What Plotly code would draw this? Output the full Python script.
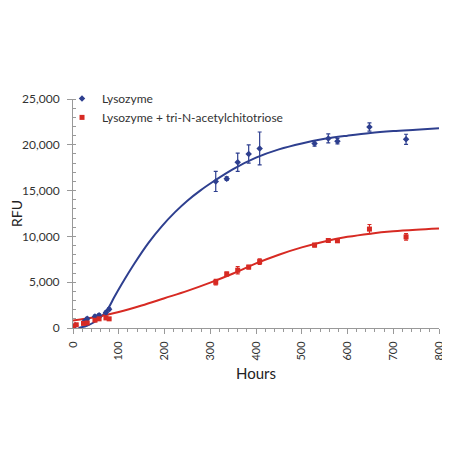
import plotly.graph_objects as go

# measured points (hours, RFU, error)
lyso_hours = [0, 5, 25, 31, 48, 57, 72, 79, 312, 336, 360, 384, 408, 528, 558, 578, 648, 728]
lyso_rfu = [150, 300, 700, 1000, 1250, 1400, 1700, 2050, 16000, 16300, 18100, 19000, 19600,
            20150, 20700, 20400, 21950, 20600]
lyso_err = [100, 100, 150, 150, 150, 150, 150, 150, 1100, 200, 1000, 1000, 1800,
            300, 500, 300, 450, 550]

inhib_hours = [0, 7, 23, 31, 48, 57, 72, 79, 312, 336, 360, 384, 408, 528, 558, 578, 648, 728]
inhib_rfu = [200, 350, 500, 550, 850, 1000, 1100, 1000, 5000, 5900, 6300, 6650, 7250,
             9050, 9550, 9520, 10800, 9950]
inhib_err = [100, 100, 100, 100, 100, 100, 100, 100, 300, 200, 400, 200, 300,
             200, 150, 150, 500, 350]

# fitted curves
lyso_fit_hours = [12, 30, 45, 60, 77, 90, 106, 135, 165, 194, 223, 250, 278, 310, 350, 400,
                  450, 500, 550, 600, 650, 700, 750, 800]
lyso_fit_rfu = [0, 250, 600, 1150, 2150, 3350, 4750, 7100, 9300, 11100, 12650, 13900, 15000,
                16100, 17350, 18600, 19500, 20150, 20650, 21000, 21300, 21500, 21650, 21800]

inhib_fit_hours = [0, 50, 100, 150, 200, 250, 300, 350, 400, 450, 500, 550, 600, 650,
                   700, 750, 800]
inhib_fit_rfu = [820, 1200, 1750, 2450, 3250, 4050, 4950, 5950, 7050, 8000, 8800, 9450,
                 9950, 10300, 10550, 10720, 10850]

x_ticks = [0, 100, 200, 300, 400, 500, 600, 700, 800]
y_ticks = [0, 5000, 10000, 15000, 20000, 25000]
y_labels = ["0", "5,000", "10,000", "15,000", "20,000", "25,000"]

BLUE = "#2E3F8F"
RED = "#D72A23"
FONT = "Lato, Open Sans, sans-serif"

fig = go.Figure()

fig.add_trace(go.Scatter(
    x=lyso_fit_hours, y=lyso_fit_rfu, mode="lines", line=dict(color=BLUE, width=2, shape="spline"),
    showlegend=False, hoverinfo="skip",
))
fig.add_trace(go.Scatter(
    x=inhib_fit_hours, y=inhib_fit_rfu, mode="lines", line=dict(color=RED, width=2, shape="spline"),
    showlegend=False, hoverinfo="skip",
))
fig.add_trace(go.Scatter(
    x=lyso_hours, y=lyso_rfu, mode="markers", name="Lysozyme",
    marker=dict(symbol="diamond", size=5, color=BLUE),
    error_y=dict(type="data", array=lyso_err, color=BLUE, thickness=1.2, width=2),
))
fig.add_trace(go.Scatter(
    x=inhib_hours, y=inhib_rfu, mode="markers", name="Lysozyme + tri-N-acetylchitotriose",
    marker=dict(symbol="square", size=5, color=RED),
    error_y=dict(type="data", array=inhib_err, color=RED, thickness=1.2, width=2),
))

# page body adds an 8px offset, margins compensate for it
fig.update_layout(
    width=450, height=450,
    margin=dict(l=65, r=19, t=91, b=130, autoexpand=False),
    paper_bgcolor="white", plot_bgcolor="white",
    font=dict(family=FONT, size=11, color="#333333"),
    showlegend=True,
    legend=dict(x=-0.03, y=1.066, xanchor="left", yanchor="top", itemwidth=30,
                bgcolor="rgba(0,0,0,0)", font=dict(size=12, color="#333333"),
                tracegroupgap=2),
)
fig.update_xaxes(
    range=[0, 800], tickvals=x_ticks, tickangle=-90,
    showgrid=False, zeroline=False, showline=True, linecolor="#999999", linewidth=1,
    ticks="outside", ticklen=5, tickcolor="#999999", automargin=False, ticklabelstandoff=3,
    minor=dict(dtick=20, ticks="outside", ticklen=3, tickcolor="#999999"),
    title=dict(text="Hours", font=dict(size=15, color="#222222"), standoff=8),
    tickfont=dict(size=11),
)
fig.update_yaxes(
    range=[0, 25000], tickvals=y_ticks, ticktext=y_labels,
    showgrid=False, zeroline=False, showline=True, linecolor="#999999", linewidth=1,
    ticks="outside", ticklen=5, tickcolor="#999999", automargin=False, ticklabelstandoff=5,
    minor=dict(dtick=1000, ticks="inside", ticklen=3, tickcolor="#999999"),
    title=dict(text="RFU", font=dict(size=14, color="#222222"), standoff=8),
    tickfont=dict(size=12),
)

fig.write_html("out.html")
